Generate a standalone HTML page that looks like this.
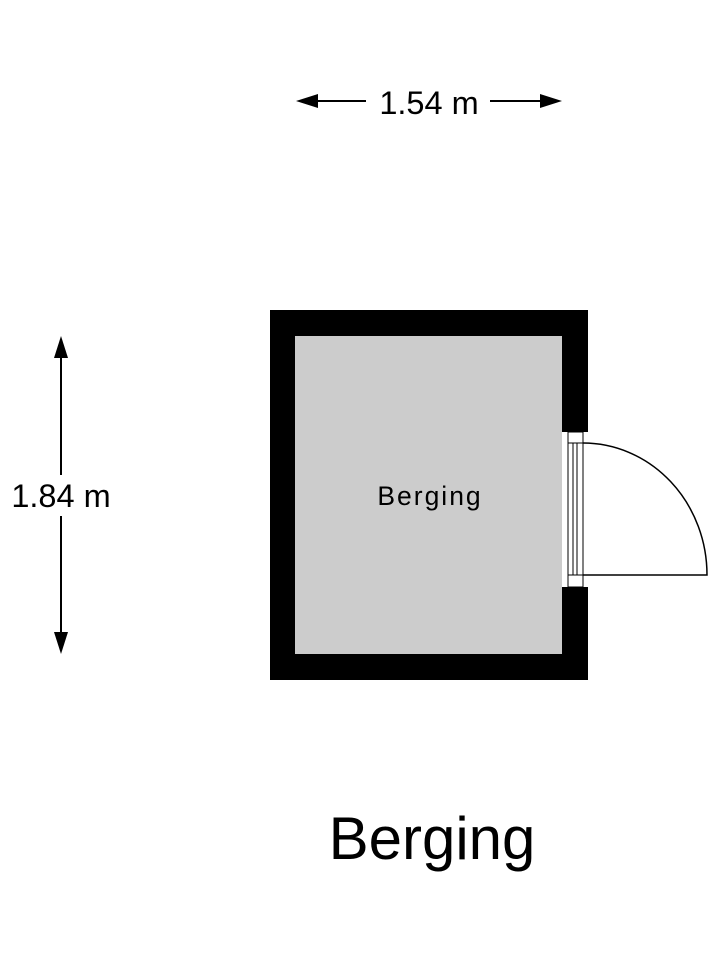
<!DOCTYPE html>
<html><head><style>
body{margin:0;background:#fff;}
svg{display:block;font-family:"Liberation Sans",Arial,sans-serif;}
</style></head><body>
<svg width="720" height="960" viewBox="0 0 720 960">
<rect x="270" y="310" width="318" height="370" fill="#000"/>
<rect x="295" y="336" width="267" height="318" fill="#ccc"/>
<rect x="562" y="432" width="26" height="155" fill="#fff"/>
<rect x="568" y="432" width="15" height="155" fill="#fff" stroke="#000" stroke-width="1"/>
<line x1="568" y1="443" x2="583" y2="443" stroke="#000"/>
<line x1="568" y1="575" x2="583" y2="575" stroke="#000"/>
<line x1="573" y1="443" x2="573" y2="575" stroke="#000"/>
<line x1="577" y1="443" x2="577" y2="575" stroke="#000"/>
<path d="M583 443 A124 132 0 0 1 707 575 L583 575" fill="none" stroke="#000" stroke-width="1.5"/>
<text x="430" y="505" font-size="26.5" text-anchor="middle" letter-spacing="2">Berging</text>
<line x1="310" y1="101" x2="366" y2="101" stroke="#000" stroke-width="2"/>
<line x1="490" y1="101" x2="548" y2="101" stroke="#000" stroke-width="2"/>
<polygon points="296,101 318,94 318,108"/>
<polygon points="562,101 540,94 540,108"/>
<text x="429" y="114" font-size="32.5" text-anchor="middle">1.54 m</text>
<line x1="61" y1="350" x2="61" y2="475" stroke="#000" stroke-width="2"/>
<line x1="61" y1="516" x2="61" y2="640" stroke="#000" stroke-width="2"/>
<polygon points="61,336 54,358 68,358"/>
<polygon points="61,654 54,632 68,632"/>
<text x="61" y="507" font-size="32.5" text-anchor="middle">1.84 m</text>
<text x="432" y="859" font-size="60" text-anchor="middle">Berging</text>
</svg>
</body></html>
